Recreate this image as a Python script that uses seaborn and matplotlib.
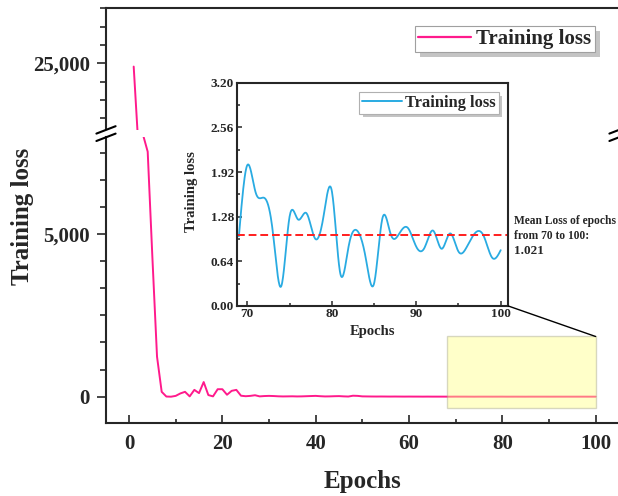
import matplotlib
matplotlib.use("Agg")
import matplotlib.pyplot as plt
import seaborn as sns
import numpy as np
from matplotlib.patches import Rectangle, ConnectionPatch
from matplotlib.lines import Line2D
from matplotlib.ticker import FixedLocator, MultipleLocator, FuncFormatter
from matplotlib.transforms import IdentityTransform

# ---------------- data ----------------
epochs = list(range(1, 101))
loss = [
    24820, 20500, 8050, 7530, 4300, 1230, 150, 5, 0, 25,
    100, 150, 10, 210, 110, 450, 50, 10, 230, 230,
    60, 180, 210, 30, 15, 25, 45, 10, 20, 25,
    20, 12, 8, 10, 12, 8, 10, 15, 20, 25,
    15, 8, 10, 15, 18, 10, 5, 30, 25, 10,
    8, 6, 5, 6, 5, 4, 5, 4, 3, 4,
    3, 3, 2, 3, 2, 2, 2, 1.5,
    1.00,                                   # 69
    2.02, 1.62, 1.55, 1.08, 0.28, 1.28, 1.24, 1.33, 0.97, 1.27,   # 70-79
    1.65, 0.47, 0.86, 1.08, 0.70, 0.32, 1.26, 1.02, 1.04, 1.12,   # 80-89
    0.85, 0.84, 1.08, 0.82, 1.04, 0.78, 0.85, 1.05, 1.00, 0.69,   # 90-99
    0.80,                                   # 100
]
inset_start = 69
mean_loss = 1.021
zoom_box = (68.1, -360, 100.0, 1850)      # x0, y0, x1, y1 of highlighted region

main_xticks = [0, 20, 40, 60, 80, 100]
lower_yticks = [0, 5000]
upper_yticks = [25000]
inset_yticks = [0.00, 0.64, 1.28, 1.92, 2.56, 3.20]
inset_xticks = [70, 80, 90, 100]

PINK = "#FF1A8C"
BLUE = "#29ABE2"
RED = "#FF1E1E"

# ---------------- style ----------------
sns.set_style("ticks")
plt.rcParams["font.family"] = ["Liberation Serif", "DejaVu Serif"]
plt.rcParams["font.weight"] = "bold"
plt.rcParams["axes.labelweight"] = "bold"
plt.rcParams["axes.linewidth"] = 1.5

W, H = 618, 496
fig = plt.figure(figsize=(W / 100, H / 100), dpi=100)


def fx(x):
    return x / W


def fy(y):
    return 1 - y / H


L = 105.7
ax_top = fig.add_axes([fx(L), fy(129.5), 1 - fx(L), fy(8.3) - fy(129.5)])
ax_bot = fig.add_axes([fx(L), fy(422.5), 1 - fx(L), fy(137) - fy(422.5)])
ax_in = fig.add_axes([fx(236.7), fy(306), fx(508.3) - fx(236.7), fy(82.7) - fy(306)])

# ---------------- main broken axes ----------------
for ax in (ax_top, ax_bot):
    sns.lineplot(x=epochs, y=loss, ax=ax, color=PINK, lw=1.4, legend=False)
    ax.set_xlim(-5.0, 104.8)
    ax.spines["right"].set_visible(False)
    for s in ax.spines.values():
        s.set_linewidth(1.5)
    ax.set_xlabel("")
    ax.set_ylabel("")

ax_top.set_ylim(21388, 28000)
ax_bot.set_ylim(-793, 7981)
ax_top.spines["bottom"].set_visible(False)
ax_bot.spines["top"].set_visible(False)

fmt = FuncFormatter(lambda v, p: f"{v:,.0f}")
ax_top.yaxis.set_major_locator(FixedLocator(upper_yticks))
ax_top.yaxis.set_minor_locator(MultipleLocator(1000))
ax_bot.yaxis.set_major_locator(FixedLocator(lower_yticks))
ax_bot.yaxis.set_minor_locator(MultipleLocator(5000 / 6))
for ax in (ax_top, ax_bot):
    ax.yaxis.set_major_formatter(fmt)
    ax.tick_params(axis="y", which="major", direction="out", length=6.5, width=1.2,
                   labelsize=15, pad=5)
    ax.tick_params(axis="y", which="minor", direction="out", length=4.3, width=1.2)
ax_top.tick_params(axis="x", which="both", bottom=False, labelbottom=False)

ax_bot.xaxis.set_major_locator(FixedLocator(main_xticks))
ax_bot.xaxis.set_minor_locator(MultipleLocator(10))
ax_bot.tick_params(axis="x", which="major", direction="in", length=5.5, width=1.2,
                   labelsize=15, pad=8)
ax_bot.tick_params(axis="x", which="minor", direction="in", length=2.6, width=1.2)

# highlighted region
x0, y0, x1, y1 = zoom_box
ax_bot.add_patch(Rectangle((x0, y0), x1 - x0, y1 - y0, facecolor="#FFFF80",
                           edgecolor="#A0A088", lw=1.0, alpha=0.42, zorder=3))

# legend (main)
leg = ax_top.legend(handles=[Line2D([], [], color=PINK, lw=1.6)], labels=["Training loss"],
                    loc="upper left", bbox_to_anchor=(fx(415), fy(26)),
                    bbox_transform=fig.transFigure, frameon=True, fancybox=False,
                    prop={"family": "Liberation Serif", "weight": "bold", "size": 15},
                    handlelength=2.55, handletextpad=0.25, borderpad=0.15,
                    borderaxespad=0, edgecolor="#A0A0A0", framealpha=1)
leg.get_frame().set_linewidth(0.8)

# labels
fig.text(fx(22), fy(216), "Training loss", rotation=90, ha="center", va="center",
         fontsize=18, weight="bold")
fig.text(fx(362), fy(488), "Epochs", ha="center", va="baseline", fontsize=18, weight="bold")

# break marks
for cx in (106.0, 619.0):
    for dy in (0, 7.4):
        fig.add_artist(Line2D([fx(cx - 9.6), fx(cx + 9.6)],
                              [fy(133.6 + dy), fy(126.2 + dy)],
                              color="black", lw=1.5, transform=fig.transFigure))

# ---------------- inset ----------------
ix = np.array(epochs[inset_start - 1:], dtype=float)
iy = np.array(loss[inset_start - 1:], dtype=float)


def natural_spline(x, y, xs):
    n = len(x)
    h = np.diff(x)
    A = np.zeros((n, n))
    b = np.zeros(n)
    A[0, 0] = A[-1, -1] = 1
    for i in range(1, n - 1):
        A[i, i - 1] = h[i - 1]
        A[i, i] = 2 * (h[i - 1] + h[i])
        A[i, i + 1] = h[i]
        b[i] = 3 * ((y[i + 1] - y[i]) / h[i] - (y[i] - y[i - 1]) / h[i - 1])
    c = np.linalg.solve(A, b)
    idx = np.clip(np.searchsorted(x, xs) - 1, 0, n - 2)
    dx = xs - x[idx]
    hb = h[idx]
    bb = (y[idx + 1] - y[idx]) / hb - hb * (2 * c[idx] + c[idx + 1]) / 3
    d = (c[idx + 1] - c[idx]) / (3 * hb)
    return y[idx] + bb * dx + c[idx] * dx ** 2 + d * dx ** 3


xs = np.linspace(ix[0], ix[-1], 600)
ys = natural_spline(ix, iy, xs)
sns.lineplot(x=xs, y=ys, ax=ax_in, color=BLUE, lw=1.3, legend=False, sort=False)
ax_in.axhline(mean_loss, color=RED, lw=1.4, ls=(0, (4, 2)))
ax_in.set_xlim(68.74, 100.9)
ax_in.set_ylim(0, 3.2)
for s in ax_in.spines.values():
    s.set_visible(True)
    s.set_linewidth(1.5)
ax_in.yaxis.set_major_locator(FixedLocator(inset_yticks))
ax_in.yaxis.set_minor_locator(FixedLocator([0.32, 0.96, 1.60, 2.24, 2.88]))
ax_in.yaxis.set_major_formatter(FuncFormatter(lambda v, p: f"{v:.2f}"))
ax_in.xaxis.set_major_locator(FixedLocator(inset_xticks))
ax_in.xaxis.set_minor_locator(FixedLocator([75, 85, 95]))
ax_in.tick_params(which="major", direction="in", length=3.8, width=1.1, labelsize=9.5, pad=2)
ax_in.tick_params(which="minor", direction="in", length=2.2, width=1.1)
ax_in.tick_params(axis="x", which="major", pad=1.5)
ax_in.set_xlabel("")
ax_in.set_ylabel("")
fig.text(fx(372.5), fy(335), "Epochs", ha="center", va="baseline", fontsize=10.5, weight="bold")
fig.text(fx(191), fy(192), "Training loss", rotation=90, ha="center", va="center",
         fontsize=10.5, weight="bold")

leg2 = ax_in.legend(handles=[Line2D([], [], color=BLUE, lw=1.4)], labels=["Training loss"],
                    loc="upper left", bbox_to_anchor=(fx(359), fy(92)),
                    bbox_transform=fig.transFigure, frameon=True, fancybox=False,
                    prop={"family": "Liberation Serif", "weight": "bold", "size": 11.8},
                    handlelength=2.45, handletextpad=0.2, borderpad=0.18,
                    borderaxespad=0, edgecolor="#B0B0B0", framealpha=1)
leg2.get_frame().set_linewidth(0.8)

# annotation
fig.text(fx(514), fy(221), "Mean Loss of epochs", ha="left", va="center", fontsize=8.3, weight="bold")
fig.text(fx(514), fy(236), "from 70 to 100:", ha="left", va="center", fontsize=8.3, weight="bold")
fig.text(fx(514), fy(251), f"{mean_loss:.3f}", ha="left", va="center", fontsize=9.5, weight="bold")

# connector from inset corner to highlighted box
con = ConnectionPatch(xyA=(1, 0), coordsA=ax_in.transAxes, xyB=(x1, y1), coordsB=ax_bot.transData,
                      color="black", lw=1.0)
fig.add_artist(con)

# legend shadows
fig.canvas.draw()
r = fig.canvas.get_renderer()
for lg, ax, off in ((leg, ax_top, 5), (leg2, ax_in, 3.5)):
    bb = lg.get_frame().get_window_extent(r)
    sh = Rectangle((bb.x0 + off, bb.y0 - off), bb.width, bb.height, transform=IdentityTransform(),
                   facecolor="#C4C4C4", edgecolor="none", zorder=lg.get_zorder() - 0.1,
                   clip_on=False)
    ax.add_artist(sh)

fig.savefig("out.png", dpi=100)
